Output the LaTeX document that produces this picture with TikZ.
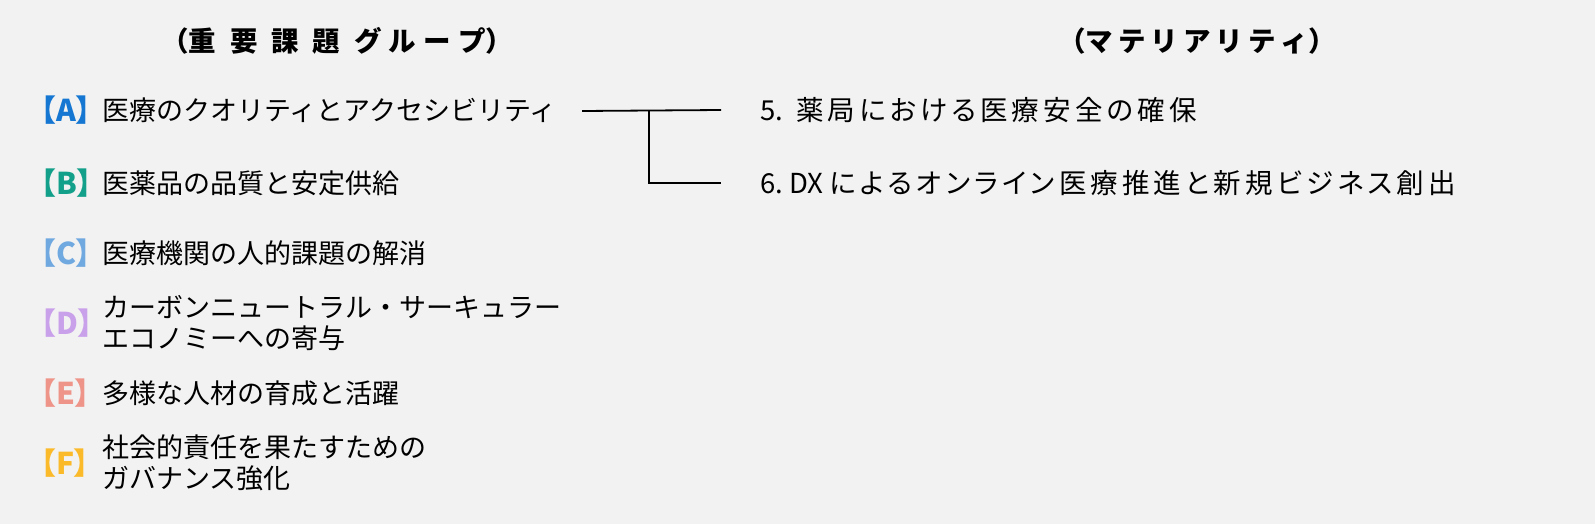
\documentclass[tikz,border=0pt]{standalone}
\usepackage{fontspec}
\setmainfont{Noto Sans CJK JP}
\newfontfamily\tagfont[RawFeature=+palt]{Noto Sans CJK JP}
\newfontfamily\matfont[RawFeature=+palt,LetterSpace=15]{Noto Sans CJK JP}
\definecolor{bg}{HTML}{F2F2F2}
\definecolor{cA}{HTML}{1577D2}
\definecolor{cB}{HTML}{13A08A}
\definecolor{cC}{HTML}{70A8E0}
\definecolor{cD}{HTML}{C9A0EA}
\definecolor{cE}{HTML}{EE9488}
\definecolor{cF}{HTML}{FBBA2A}
\tikzset{
  txt/.style={anchor=west,inner sep=0pt,align=left,font=\fontsize{27}{30.5}\selectfont},
  mat/.style={anchor=west,inner sep=0pt,font=\fontsize{27.5}{30}\selectfont},
  hdr/.style={inner sep=0pt,font=\fontsize{27.5}{30}\selectfont\bfseries},
  tag/.style={anchor=west,inner sep=0pt,font=\tagfont\fontsize{30}{30}\selectfont\bfseries},
  link/.style={line width=1.8pt,black}
}
\newcommand{\tagtext}[1]{【#1】}
\begin{document}
\begin{tikzpicture}[x=1pt,y=-1pt]
\fill[bg] (0,0) rectangle (1595,524);
\useasboundingbox (0,0) rectangle (1595,524);
\node[hdr] (h1) at (337,41) {（重\hspace{14pt}要\hspace{14pt}課\hspace{14pt}題\hspace{14pt}グ\hspace{7pt}ル\hspace{7pt}ー\hspace{7pt}プ）};
\node[hdr] (h2) at (1197,41) {（マ\hspace{5pt}テ\hspace{5pt}リ\hspace{5pt}ア\hspace{5pt}リ\hspace{5pt}テ\hspace{5pt}ィ）};
\node[tag,text=cA] (gA) at (41,110) {\tagtext{A}};
\node[txt] (tA) at (102,110) {医療のクオリティとアクセシビリティ};
\node[tag,text=cB] (gB) at (41,183) {\tagtext{B}};
\node[txt] (tB) at (102,183) {医薬品の品質と安定供給};
\node[tag,text=cC] (gC) at (41,253) {\tagtext{C}};
\node[txt] (tC) at (102,253) {医療機関の人的課題の解消};
\node[tag,text=cD] (gD) at (41,323) {\tagtext{D}};
\node[txt] (tD) at (102,323) {カーボンニュートラル・サーキュラー\\エコノミーへの寄与};
\node[tag,text=cE] (gE) at (41,393) {\tagtext{E}};
\node[txt] (tE) at (102,393) {多様な人材の育成と活躍};
\node[tag,text=cF] (gF) at (41,463) {\tagtext{F}};
\node[txt] (tF) at (102,463) {社会的責任を果たすための\\ガバナンス強化};
\node[mat] (m5) at (760,110) {5.\ \hspace{7pt}{\matfont 薬局における医療安全の確保}};
\node[mat] (m6) at (760,183) {6.\ DX\ {\matfont によるオンライン医療推進と新規ビジネス創出}};
\coordinate (s) at (582,111);
\coordinate (j) at (649,111);
\draw[link] (s) -- (m5.west -| 721,0) ;
\draw[link] (j) |- ([xshift=-39pt]m6.west);
\end{tikzpicture}
\end{document}
